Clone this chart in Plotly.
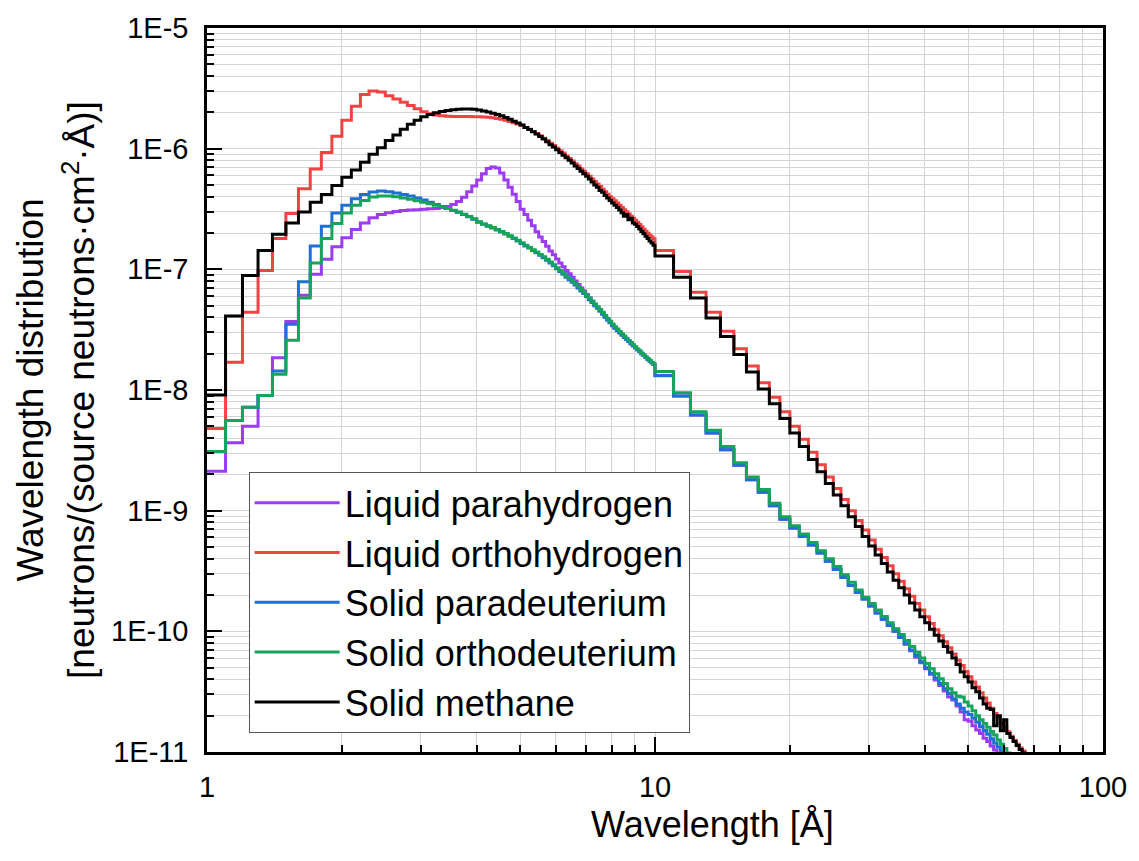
import plotly.graph_objects as go

# ---- bin edges (Å): 0.1 Å bins from 1 to 10, 1 Å bins from 10 to 70 ----
bin_edges = [round(1.0 + 0.1 * i, 1) for i in range(90)] + list(range(10, 71))

series_names = ["Liquid parahydrogen", "Liquid orthohydrogen", "Solid paradeuterium",
                "Solid orthodeuterium", "Solid methane"]

para_h2 = [
    2.12e-9, 3.65e-9, 5.0e-9, 9.0e-9, 1.85e-8, 3.7e-8, 6.1e-8, 9.1e-8, 1.21e-7, 1.54e-7,
    1.83e-7, 2.14e-7, 2.42e-7, 2.68e-7, 2.85e-7, 2.95e-7, 3.02e-7, 3.07e-7, 3.1e-7, 3.12e-7,
    3.14e-7, 3.17e-7, 3.2e-7, 3.25e-7, 3.32e-7, 3.45e-7, 3.65e-7, 3.95e-7, 4.4e-7, 4.9e-7,
    5.5e-7, 6.2e-7, 6.85e-7, 7.05e-7, 6.9e-7, 6.3e-7, 5.5e-7, 4.8e-7, 4.2e-7, 3.65e-7,
    3.15e-7, 2.85e-7, 2.55e-7, 2.3e-7, 2.05e-7, 1.85e-7, 1.7e-7, 1.55e-7, 1.42e-7, 1.32e-7,
    1.22e-7, 1.13e-7, 1.05e-7, 9.8e-8, 9.2e-8, 8.6e-8, 8.0e-8, 7.5e-8, 7.0e-8, 6.6e-8,
    6.2e-8, 5.8e-8, 5.45e-8, 5.1e-8, 4.8e-8, 4.55e-8, 4.3e-8, 4.05e-8, 3.82e-8, 3.62e-8,
    3.42e-8, 3.26e-8, 3.11e-8, 2.98e-8, 2.85e-8, 2.73e-8, 2.62e-8, 2.52e-8, 2.42e-8, 2.33e-8,
    2.24e-8, 2.16e-8, 2.08e-8, 2.0e-8, 1.93e-8, 1.86e-8, 1.8e-8, 1.74e-8, 1.68e-8, 1.63e-8,
    1.32e-8, 8.9e-9, 6.2e-9, 4.4e-9, 3.2e-9, 2.38e-9, 1.8e-9, 1.42e-9, 1.1e-9, 8.5e-10,
    7.2e-10, 6.1e-10, 5.2e-10, 4.45e-10, 3.8e-10, 3.25e-10, 2.8e-10, 2.4e-10, 2.1e-10, 1.85e-10,
    1.62e-10, 1.42e-10, 1.26e-10, 1.12e-10, 1.0e-10, 8.9e-11, 7.8e-11, 6.9e-11, 6.1e-11, 5.5e-11,
    4.9e-11, 4.4e-11, 3.95e-11, 3.55e-11, 3.2e-11, 2.85e-11, 2.7e-11, 2.4e-11, 2.15e-11, 1.85e-11,
    1.8e-11, 1.65e-11, 1.52e-11, 1.42e-11, 1.3e-11, 1.22e-11, 1.12e-11, 1.04e-11, 9.6e-12, 8.6e-12,
]

ortho_h2 = [
    4.8e-9, 1.7e-8, 4.4e-8, 9.8e-8, 1.8e-7, 2.9e-7, 4.65e-7, 6.8e-7, 9.3e-7, 1.27e-6,
    1.72e-6, 2.25e-6, 2.81e-6, 3.0e-6, 2.95e-6, 2.75e-6, 2.58e-6, 2.42e-6, 2.28e-6, 2.14e-6,
    2.02e-6, 1.95e-6, 1.9e-6, 1.87e-6, 1.86e-6, 1.85e-6, 1.85e-6, 1.85e-6, 1.85e-6, 1.84e-6,
    1.84e-6, 1.83e-6, 1.82e-6, 1.8e-6, 1.78e-6, 1.75e-6, 1.72e-6, 1.68e-6, 1.64e-6, 1.6e-6,
    1.56e-6, 1.5e-6, 1.45e-6, 1.39e-6, 1.33e-6, 1.28e-6, 1.22e-6, 1.17e-6, 1.11e-6, 1.06e-6,
    1.01e-6, 9.6e-7, 9.2e-7, 8.7e-7, 8.3e-7, 7.9e-7, 7.5e-7, 7.2e-7, 6.8e-7, 6.5e-7,
    6.2e-7, 5.9e-7, 5.6e-7, 5.35e-7, 5.1e-7, 4.85e-7, 4.6e-7, 4.4e-7, 4.2e-7, 4.0e-7,
    3.85e-7, 3.7e-7, 3.55e-7, 3.4e-7, 3.25e-7, 3.12e-7, 3.0e-7, 2.88e-7, 2.76e-7, 2.65e-7,
    2.55e-7, 2.45e-7, 2.35e-7, 2.25e-7, 2.15e-7, 2.07e-7, 1.99e-7, 1.92e-7, 1.85e-7, 1.79e-7,
    1.43e-7, 9.6e-8, 6.45e-8, 4.4e-8, 3.07e-8, 2.2e-8, 1.58e-8, 1.15e-8, 8.7e-9, 6.6e-9,
    5.0e-9, 3.9e-9, 3.05e-9, 2.4e-9, 1.9e-9, 1.53e-9, 1.24e-9, 1.0e-9, 8.3e-10, 6.9e-10,
    5.7e-10, 4.8e-10, 4.1e-10, 3.5e-10, 3.0e-10, 2.6e-10, 2.25e-10, 1.95e-10, 1.7e-10, 1.5e-10,
    1.32e-10, 1.16e-10, 1.03e-10, 9.2e-11, 8.2e-11, 7.3e-11, 6.5e-11, 5.8e-11, 5.2e-11, 4.65e-11,
    4.2e-11, 3.8e-11, 3.45e-11, 3.1e-11, 2.8e-11, 2.55e-11, 2.3e-11, 2.08e-11, 1.92e-11, 1.75e-11,
    1.6e-11, 1.47e-11, 1.35e-11, 1.25e-11, 1.16e-11, 1.08e-11, 1.02e-11, 9.5e-12, 8.8e-12, 8.2e-12,
]

para_d2 = [
    3.1e-9, 5.6e-9, 7.2e-9, 9.0e-9, 1.44e-8, 3.5e-8, 7.9e-8, 1.56e-7, 2.27e-7, 2.93e-7,
    3.39e-7, 3.84e-7, 4.17e-7, 4.37e-7, 4.45e-7, 4.4e-7, 4.3e-7, 4.18e-7, 4.05e-7, 3.9e-7,
    3.75e-7, 3.6e-7, 3.45e-7, 3.32e-7, 3.2e-7, 3.08e-7, 2.97e-7, 2.85e-7, 2.73e-7, 2.6e-7,
    2.45e-7, 2.36e-7, 2.28e-7, 2.2e-7, 2.12e-7, 2.04e-7, 1.96e-7, 1.88e-7, 1.8e-7, 1.72e-7,
    1.64e-7, 1.56e-7, 1.5e-7, 1.43e-7, 1.37e-7, 1.31e-7, 1.25e-7, 1.19e-7, 1.13e-7, 1.07e-7,
    1.01e-7, 9.6e-8, 9.1e-8, 8.6e-8, 8.2e-8, 7.8e-8, 7.4e-8, 7.0e-8, 6.6e-8, 6.3e-8,
    5.95e-8, 5.6e-8, 5.3e-8, 5.0e-8, 4.75e-8, 4.5e-8, 4.25e-8, 4.0e-8, 3.8e-8, 3.6e-8,
    3.4e-8, 3.25e-8, 3.1e-8, 2.98e-8, 2.85e-8, 2.73e-8, 2.62e-8, 2.52e-8, 2.42e-8, 2.33e-8,
    2.24e-8, 2.16e-8, 2.08e-8, 2.0e-8, 1.93e-8, 1.86e-8, 1.8e-8, 1.74e-8, 1.68e-8, 1.63e-8,
    1.31e-8, 8.9e-9, 6.2e-9, 4.4e-9, 3.2e-9, 2.38e-9, 1.8e-9, 1.42e-9, 1.1e-9, 8.5e-10,
    7.2e-10, 6.1e-10, 5.2e-10, 4.45e-10, 3.8e-10, 3.25e-10, 2.8e-10, 2.4e-10, 2.1e-10, 1.85e-10,
    1.62e-10, 1.42e-10, 1.26e-10, 1.12e-10, 1.0e-10, 8.9e-11, 7.9e-11, 7.0e-11, 6.3e-11, 5.6e-11,
    5.0e-11, 4.5e-11, 4.1e-11, 3.7e-11, 3.35e-11, 3.05e-11, 2.75e-11, 2.5e-11, 2.3e-11, 2.15e-11,
    2.05e-11, 1.9e-11, 1.76e-11, 1.63e-11, 1.51e-11, 1.4e-11, 1.29e-11, 1.19e-11, 1.1e-11, 1.02e-11,
    9.4e-12,
]

ortho_d2 = [
    3.1e-9, 5.6e-9, 7.2e-9, 9.0e-9, 1.35e-8, 2.59e-8, 5.8e-8, 1.13e-7, 1.8e-7, 2.4e-7,
    2.93e-7, 3.39e-7, 3.72e-7, 3.98e-7, 4.05e-7, 4.05e-7, 4.0e-7, 3.9e-7, 3.8e-7, 3.7e-7,
    3.6e-7, 3.5e-7, 3.4e-7, 3.3e-7, 3.2e-7, 3.09e-7, 2.98e-7, 2.86e-7, 2.74e-7, 2.62e-7,
    2.48e-7, 2.38e-7, 2.3e-7, 2.22e-7, 2.14e-7, 2.06e-7, 1.98e-7, 1.9e-7, 1.82e-7, 1.74e-7,
    1.66e-7, 1.58e-7, 1.52e-7, 1.45e-7, 1.39e-7, 1.33e-7, 1.27e-7, 1.21e-7, 1.15e-7, 1.09e-7,
    1.03e-7, 9.8e-8, 9.3e-8, 8.8e-8, 8.4e-8, 8.0e-8, 7.6e-8, 7.2e-8, 6.8e-8, 6.5e-8,
    6.1e-8, 5.8e-8, 5.45e-8, 5.15e-8, 4.9e-8, 4.65e-8, 4.4e-8, 4.15e-8, 3.92e-8, 3.72e-8,
    3.52e-8, 3.35e-8, 3.2e-8, 3.06e-8, 2.93e-8, 2.8e-8, 2.68e-8, 2.57e-8, 2.47e-8, 2.37e-8,
    2.28e-8, 2.19e-8, 2.11e-8, 2.03e-8, 1.96e-8, 1.89e-8, 1.82e-8, 1.76e-8, 1.7e-8, 1.65e-8,
    1.42e-8, 9.5e-9, 6.6e-9, 4.65e-9, 3.4e-9, 2.5e-9, 1.9e-9, 1.5e-9, 1.15e-9, 8.9e-10,
    7.5e-10, 6.4e-10, 5.45e-10, 4.65e-10, 4.0e-10, 3.45e-10, 2.95e-10, 2.55e-10, 2.2e-10, 1.92e-10,
    1.7e-10, 1.5e-10, 1.33e-10, 1.18e-10, 1.05e-10, 9.4e-11, 8.4e-11, 7.5e-11, 6.7e-11, 6.0e-11,
    5.4e-11, 4.9e-11, 4.45e-11, 4.05e-11, 3.7e-11, 3.35e-11, 3.1e-11, 2.9e-11, 2.85e-11, 2.6e-11,
    2.4e-11, 2.2e-11, 2.0e-11, 1.85e-11, 1.72e-11, 1.6e-11, 1.48e-11, 1.38e-11, 1.26e-11, 1.16e-11,
    1.07e-11, 9.8e-12, 8.9e-12,
]

methane = [
    9.1e-9, 4.1e-8, 8.9e-8, 1.43e-7, 1.95e-7, 2.42e-7, 2.98e-7, 3.6e-7, 4.17e-7, 4.94e-7,
    5.8e-7, 6.65e-7, 7.7e-7, 9.0e-7, 1.02e-6, 1.17e-6, 1.3e-6, 1.45e-6, 1.59e-6, 1.72e-6,
    1.84e-6, 1.92e-6, 1.98e-6, 2.03e-6, 2.07e-6, 2.1e-6, 2.12e-6, 2.13e-6, 2.13e-6, 2.12e-6,
    2.09e-6, 2.05e-6, 2.01e-6, 1.97e-6, 1.92e-6, 1.87e-6, 1.81e-6, 1.75e-6, 1.69e-6, 1.63e-6,
    1.57e-6, 1.5e-6, 1.44e-6, 1.38e-6, 1.32e-6, 1.26e-6, 1.2e-6, 1.14e-6, 1.08e-6, 1.03e-6,
    9.8e-7, 9.3e-7, 8.8e-7, 8.4e-7, 8.0e-7, 7.6e-7, 7.2e-7, 6.85e-7, 6.5e-7, 6.2e-7,
    5.9e-7, 5.6e-7, 5.3e-7, 5.0e-7, 4.8e-7, 4.5e-7, 4.35e-7, 4.1e-7, 3.9e-7, 3.72e-7,
    3.55e-7, 3.4e-7, 3.25e-7, 3.1e-7, 2.95e-7, 2.75e-7, 2.85e-7, 2.58e-7, 2.65e-7, 2.42e-7,
    2.36e-7, 2.26e-7, 2.16e-7, 2.06e-7, 1.97e-7, 1.88e-7, 1.8e-7, 1.72e-7, 1.65e-7, 1.58e-7,
    1.29e-7, 8.6e-8, 5.8e-8, 3.95e-8, 2.78e-8, 1.97e-8, 1.41e-8, 1.02e-8, 7.7e-9, 5.8e-9,
    4.4e-9, 3.4e-9, 2.65e-9, 2.1e-9, 1.68e-9, 1.35e-9, 1.1e-9, 8.9e-10, 7.4e-10, 6.1e-10,
    5.1e-10, 4.3e-10, 3.65e-10, 3.1e-10, 2.65e-10, 2.3e-10, 2.0e-10, 1.72e-10, 1.5e-10, 1.32e-10,
    1.18e-10, 1.04e-10, 9.3e-11, 8.3e-11, 7.5e-11, 6.7e-11, 6.0e-11, 5.3e-11, 4.6e-11, 4.2e-11,
    3.8e-11, 3.4e-11, 3.15e-11, 2.8e-11, 2.5e-11, 2.3e-11, 2.25e-11, 1.65e-11, 2.0e-11, 1.5e-11,
    1.85e-11, 1.42e-11, 1.32e-11, 1.22e-11, 1.13e-11, 1.05e-11, 9.8e-12, 9.0e-12, 8.4e-12, 7.8e-12,
]

series_values = [para_h2, ortho_h2, para_d2, ortho_d2, methane]
series_colors = ["#9b3cf0", "#f04444", "#1f6fd6", "#16a35c", "#000000"]

x_tick_vals = [1, 10, 100]
x_tick_text = ["1", "10", "100"]
y_tick_vals = [1e-11, 1e-10, 1e-9, 1e-8, 1e-7, 1e-6, 1e-5]
y_tick_text = ["1E-11", "1E-10", "1E-9", "1E-8", "1E-7", "1E-6", "1E-5"]

FONT = "Liberation Sans, Arial, sans-serif"
GRID = "#d4d4d4"

fig = go.Figure()
for name, vals, col in zip(series_names, series_values, series_colors):
    xs = bin_edges[:len(vals) + 1]
    ys = list(vals) + [vals[-1]]
    fig.add_trace(go.Scatter(x=xs, y=ys, mode="lines", name=name,
                             line=dict(color=col, width=3, shape="hv")))

x_minor = [m * 10 ** d for d in range(0, 2) for m in range(2, 10)]
y_minor = [m * 10.0 ** d for d in range(-11, -5) for m in range(2, 10)]

fig.update_layout(
    width=1139, height=861,
    margin=dict(l=207, r=29, t=23, b=109),
    paper_bgcolor="white", plot_bgcolor="white",
    font=dict(family=FONT, color="black"),
    showlegend=True,
    legend=dict(x=0.0465, y=0.387, xanchor="left", yanchor="top",
                bgcolor="white", bordercolor="#555555", borderwidth=1,
                font=dict(size=36, family=FONT), itemwidth=85,
                tracegroupgap=0),
    xaxis=dict(type="log", range=[0, 2], tickmode="array", tickvals=x_tick_vals,
               ticktext=x_tick_text, ticks="inside", ticklen=15, tickwidth=2,
               tickcolor="black", showline=True, linewidth=2.5, linecolor="black",
               mirror=True, showgrid=True, gridcolor=GRID, gridwidth=1, zeroline=False,
               tickfont=dict(size=29), ticklabelstandoff=7,
               minor=dict(tickmode="array", tickvals=x_minor, ticks="inside", ticklen=7,
                          tickwidth=2, tickcolor="black", showgrid=True,
                          gridcolor=GRID, gridwidth=1)),
    yaxis=dict(type="log", range=[-11, -5], tickmode="array", tickvals=y_tick_vals,
               ticktext=y_tick_text, ticks="inside", ticklen=15, tickwidth=2,
               tickcolor="black", showline=True, linewidth=2.5, linecolor="black",
               mirror=True, showgrid=True, gridcolor=GRID, gridwidth=1, zeroline=False,
               tickfont=dict(size=29), ticklabelstandoff=10,
               minor=dict(tickmode="array", tickvals=y_minor, ticks="inside", ticklen=7,
                          tickwidth=2, tickcolor="black", showgrid=True,
                          gridcolor=GRID, gridwidth=1)),
    annotations=[
        dict(text="Wavelength [Å]", xref="paper", yref="paper", x=0.5637, y=-0.1,
             xanchor="center", yanchor="middle", showarrow=False,
             font=dict(size=36, family=FONT)),
        dict(text="Wavelength distribution", xref="paper", yref="paper", x=-0.198, y=0.5,
             xanchor="center", yanchor="middle", textangle=-90, showarrow=False,
             font=dict(size=37, family=FONT)),
        dict(text="[neutrons/(source neutrons·cm<sup>2</sup>·Å)]", xref="paper", yref="paper",
             x=-0.1429, y=0.5, xanchor="center", yanchor="middle", textangle=-90,
             showarrow=False, font=dict(size=37, family=FONT)),
    ],
)

fig.write_html("out.html")
